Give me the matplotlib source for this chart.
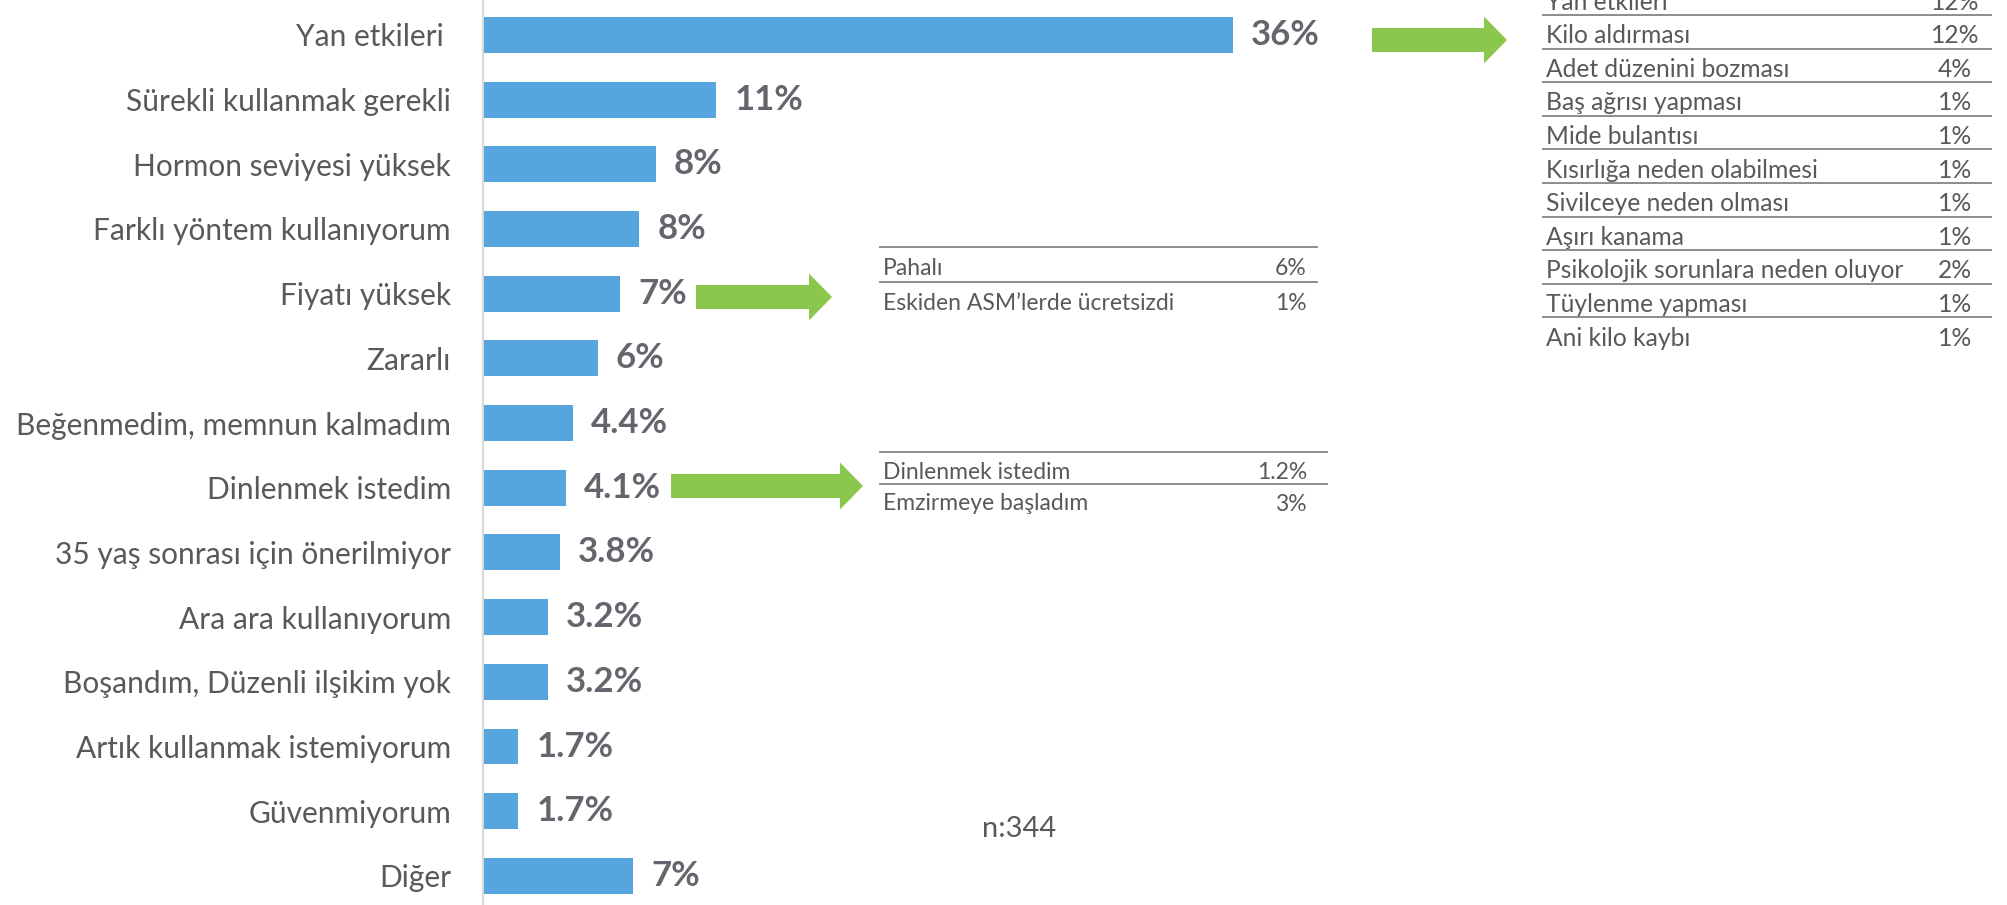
import matplotlib
matplotlib.use('Agg')
from matplotlib import pyplot as plt
from matplotlib.patches import Polygon
from matplotlib.lines import Line2D

plt.rcParams['font.family'] = ['Lato', 'DejaVu Sans']

# Main bars (share of respondents, %)
categories = ['Yan etkileri ', 'Sürekli kullanmak gerekli', 'Hormon seviyesi yüksek',
              'Farklı yöntem kullanıyorum', 'Fiyatı yüksek', 'Zararlı',
              'Beğenmedim, memnun kalmadım', 'Dinlenmek istedim',
              '35 yaş sonrası için önerilmiyor', 'Ara ara kullanıyorum',
              'Boşandım, Düzenli ilşikim yok', 'Artık kullanmak istemiyorum',
              'Güvenmiyorum', 'Diğer']
values = [36, 11.2, 8.3, 7.5, 6.6, 5.5, 4.3, 4.0, 3.7, 3.1, 3.1, 1.7, 1.7, 7.2]
value_labels = ['36%', '11%', '8%', '8%', '7%', '6%', '4.4%', '4.1%', '3.8%',
                '3.2%', '3.2%', '1.7%', '1.7%', '7%']

# Breakdown tables
side_items = ['Yan etkileri', 'Kilo aldırması', 'Adet düzenini bozması', 'Baş ağrısı yapması',
              'Mide bulantısı', 'Kısırlığa neden olabilmesi', 'Sivilceye neden olması',
              'Aşırı kanama', 'Psikolojik sorunlara neden oluyor', 'Tüylenme yapması',
              'Ani kilo kaybı']
side_values = ['12%', '12%', '4%', '1%', '1%', '1%', '1%', '1%', '2%', '1%', '1%']
price_items = ['Pahalı', 'Eskiden ASM’lerde ücretsizdi']
price_values = ['6%', '1%']
rest_items = ['Dinlenmek istedim', 'Emzirmeye başladım']
rest_values = ['1.2%', '3%']
n_text = 'n:344'

W, H = 2008, 905
BLUE = '#56a6dd'
GREEN = '#8bc74c'
TEXT = '#595959'
VAL = '#65656d'
LINE = '#8c8c8c'

fig = plt.figure(figsize=(W / 100, H / 100), dpi=100)
x0 = 483
px_per_unit = 750 / 36.0
ax = fig.add_axes([x0 / W, 0, 1 - x0 / W, 1])
ax.barh(range(len(values)), values, height=0.556, color=BLUE)
ax.set_xlim(0, (W - x0) / px_per_unit)
ax.set_ylim(13.45, -0.54)
ax.set_yticks(range(len(categories)))
ax.set_yticklabels(categories, fontsize=21.5, color=TEXT)
ax.tick_params(axis='y', length=0, pad=23)
ax.set_xticks([])
for s in ['top', 'right', 'bottom']:
    ax.spines[s].set_visible(False)
ax.spines['left'].set_color('#d9d9d9')
ax.spines['left'].set_linewidth(1.5)

for i, (v, lab) in enumerate(zip(values, value_labels)):
    ax.text(v + 18 / px_per_unit, i, lab, va='center', ha='left',
            fontsize=25, fontweight='bold', color=VAL)


def fx(x):
    return x / W


def fy(y):
    return 1 - y / H


def arrow(xs, xe, yc, head=23, shaft=24, headw=47):
    xb = xe - head
    pts = [(xs, yc - shaft / 2), (xb, yc - shaft / 2), (xb, yc - headw / 2), (xe, yc),
           (xb, yc + headw / 2), (xb, yc + shaft / 2), (xs, yc + shaft / 2)]
    fig.add_artist(Polygon([(fx(a), fy(b)) for a, b in pts], closed=True,
                           facecolor=GREEN, edgecolor='none'))


def table(items, vals, xl, xr, xv, first_line, row_h, n_lines, valign, size=16, dy=4):
    for k in range(n_lines):
        y = first_line + row_h * k
        fig.add_artist(Line2D([fx(xl), fx(xr)], [fy(y), fy(y)], color=LINE, lw=1.4))
    for i, (t, v) in enumerate(zip(items, vals)):
        yc = first_line + row_h * (i - 0.5) + (row_h if n_lines == len(items) else 0) + dy
        fig.text(fx(xl + 3), fy(yc), t, ha='left', va='center', fontsize=size, color=TEXT)
        fig.text(fx(xv), fy(yc), v, ha=valign, va='center', fontsize=size, color=TEXT)


arrow(1372, 1507, 40)
arrow(696, 832, 297)
arrow(671, 863, 486)

table(side_items, side_values, 1543, 1991, 1955, 15, 33.6, 10, 'center', size=17.7)
table(price_items, price_values, 880, 1317, 1307, 247, 35, 2, 'right', size=16.5)
table(rest_items, rest_values, 880, 1327, 1307, 452, 32, 2, 'right', size=16.5)

fig.text(fx(1019), fy(829), n_text, ha='center', va='center', fontsize=21, color=TEXT)

fig.savefig('out.png', dpi=100)
